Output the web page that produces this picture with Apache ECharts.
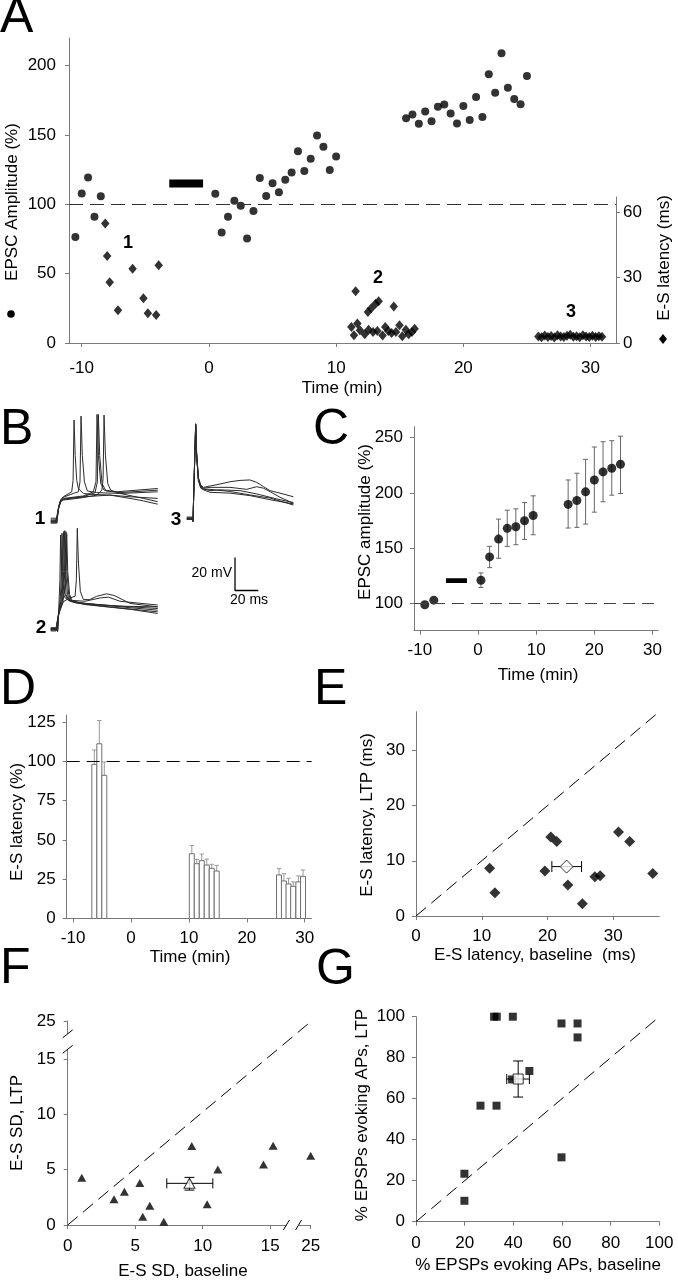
<!DOCTYPE html>
<html><head><meta charset="utf-8">
<script src="https://cdn.jsdelivr.net/npm/echarts@6/dist/echarts.min.js"></script>
<style>html,body{margin:0;padding:0;background:#fff}#c{width:678px;height:1280px}</style>
</head><body><div id="c"></div>
<script>
// ---------- Panel A ----------
const aEpscT = [-10.5,-10,-9.5,-9,-8.5, 0.5,1,1.5,2,2.5,3,3.5,4,4.5,5,5.5,6,6.5,7,7.5,8,8.5,9,9.5,10,
  15.5,16,16.5,17,17.5,18,18.5,19,19.5,20,20.5,21,21.5,22,22.5,23,23.5,24,24.5,25];
const aEpscV = [76.5,107.9,119.4,91,105.9, 107.6,79.7,91,102.6,99,75.4,95.3,119,106,115.3,108.8,117.7,123,138.4,124,132.9,149.7,141.5,124.7,134.6,
  162.2,164.9,158.1,167,160,170.4,172,165.6,158.4,170.9,160.8,177.4,163,193.8,180.5,209,184.1,176,172.3,192.6];
const aLatT = [-8.15,-8.0,-7.8,-7.15,-6.0,-5.15,-4.8,-4.15,-3.95,
  11.2,11.4,11.53,11.67,11.87,12.25,12.5,12.55,12.76,12.9,13.1,13.24,13.34,13.65,13.86,14.1,14.36,14.53,14.7,14.98,15.2,15.48,15.7,15.96,16.17,
  25.9,26.15,26.4,26.65,26.9,27.15,27.4,27.65,27.9,28.15,28.4,28.65,28.9,29.15,29.4,29.65,29.9,30.15,30.4,30.65,30.9];
const aLatV = [54.8,39.9,27.9,15.0,34.1,20.5,13.6,12.8,35.7,
  7.3,3.5,23.8,9.0,5.8,4.0,14.2,6.1,16.0,5.0,18.0,5.5,19.2,3.4,7.3,5.5,4.6,16.8,5.0,8.1,3.1,6.1,4.0,5.0,6.5,
  3.0,2.6,3.4,2.8,3.2,2.5,3.6,3.0,2.7,3.3,3.8,2.9,3.1,2.6,3.5,3.0,2.8,3.3,2.7,3.1,2.9];
const aDrugT = [-3.12,-0.46]; const aDrugV = 115;
const aXTicks = [-10,0,10,20,30], aYTicks = [0,50,100,150,200], aY2Ticks = [0,30,60];

// ---------- Panel B (ms, mV) ----------
const b1Traces = [
 [[0.6,-69],[5.1,-69],[5.7,-71],[7.4,-61],[9.1,-57],[11.4,-55],[18.6,-52],[19.8,-45],[20.6,-8.5],[21.6,-30],[22.9,-45],[24.3,-50],[28.6,-53],[34.3,-53.5],[51.4,-54],[68.6,-55],[92.3,-56]],
 [[0.6,-70],[5.1,-70],[5.7,-71],[7.4,-61],[9.1,-57],[11.4,-55.3],[20,-53],[24.3,-52],[25.7,-46],[26.6,-6.1],[27.7,-30],[29.5,-46],[32,-51.5],[40,-52.5],[60,-53],[92.3,-52]],
 [[0.6,-68],[5.1,-68],[5.7,-71],[7.4,-61.5],[9.1,-57.5],[11.4,-56],[28.6,-54.5],[37.1,-52],[39.4,-46],[40.3,-5.1],[41.5,-30],[43.5,-47],[46.3,-51],[57,-52],[92.3,-50]],
 [[0.6,-71],[5.1,-71],[5.7,-72],[7.4,-62],[9.1,-58],[11.4,-56.5],[28.6,-55],[38.6,-52.5],[40.6,-46],[41.4,-5.1],[42.6,-30],[44.6,-47],[48,-51.5],[60,-52.5],[92.3,-51]],
 [[0.6,-70.5],[5.1,-70.5],[5.7,-71.5],[7.4,-62],[9.1,-58],[11.4,-57],[28.6,-55.5],[40,-54],[44.5,-51],[45.5,-44],[46.3,-5.5],[47.5,-30],[49.5,-47],[52,-51],[60,-53],[80,-56],[92.3,-58]],
 [[0.6,-69.5],[5.1,-69.5],[5.7,-71],[7.4,-62],[9.1,-58],[11.4,-56.5],[28.6,-55],[51.4,-54],[68.6,-56],[80,-57.5],[92.3,-59.5]]
];
const b2Traces = [
 [[0.6,-70],[5.1,-70],[6.5,-71],[7.4,-60],[8.5,-40],[9.1,-12.8],[9.8,-35],[11,-48],[13,-51],[17,-53],[30,-55],[50,-56.5],[70,-58],[92.3,-60.4]],
 [[0.6,-69],[5.1,-69],[6.5,-71],[7.4,-60],[9,-50],[9.7,-35],[10.3,-11.8],[11,-35],[12.5,-48],[15,-52],[20,-53.5],[40,-55],[70,-57],[92.3,-58.4]],
 [[0.6,-71],[5.1,-71],[6.5,-72],[7.4,-61],[9.5,-52],[10.8,-35],[11.6,-10.8],[12.4,-35],[13.8,-49],[16,-52],[22,-54],[45,-56],[92.3,-59.4]],
 [[0.6,-70.5],[5.1,-70.5],[6.5,-71.5],[7.4,-61],[10,-53],[11.7,-35],[12.6,-10.2],[13.4,-35],[15,-49],[17,-52.5],[25,-54],[50,-55.5],[92.3,-57.4]],
 [[0.6,-69.5],[5.1,-69.5],[6.5,-71],[7.4,-61],[10.5,-53.5],[12.8,-35],[13.7,-10.8],[14.5,-35],[16,-49],[18,-52.5],[30,-54.5],[60,-56],[92.3,-56.4]],
 [[0.6,-70],[5.1,-70],[6.5,-71.5],[7.4,-61],[11,-54],[13.4,-40],[14.3,-12],[15.2,-35],[16.8,-49],[19,-52.5],[30,-53],[43,-51],[50,-50.5],[60,-53],[92.3,-55.3]],
 [[0.6,-70],[5.1,-70],[6.5,-71],[7.4,-61],[9,-56],[12,-53],[17,-51],[21.5,-50],[22.6,-40],[23.4,-8.8],[24.4,-30],[26,-47],[28.6,-52],[34,-52],[40,-50],[48.6,-48.5],[55,-49.5],[68.6,-54.3],[92.3,-56.4]]
];
const b3Traces = [
 [[0.6,-69.5],[5.4,-69.5],[6,-71],[6.8,-50],[7.8,-25],[8.3,-12.5],[9.1,-30],[10.6,-45],[12.6,-49.6],[14.9,-51],[20.6,-50.2],[29.1,-49],[37.7,-47.6],[46.3,-46.8],[54.8,-46.5],[60.6,-48],[66.3,-50.5],[72,-53],[80.6,-54.5],[92,-56.7]],
 [[0.6,-70],[5.4,-70],[6,-71.5],[6.8,-50],[7.8,-25],[8.3,-13],[9.1,-31],[10.6,-46],[12.6,-50],[14.9,-51.5],[20.6,-51],[37.7,-51],[52,-52.2],[60.6,-50.6],[66.3,-51.5],[72,-53.6],[80.6,-57],[92,-60.7]],
 [[0.6,-70.5],[5.4,-70.5],[6,-72],[6.8,-51],[7.8,-26],[8.3,-13.5],[9.1,-32],[10.6,-47],[12.6,-51],[14.9,-52],[20.6,-52.2],[37.7,-53.5],[54.8,-55.6],[72,-57.5],[92,-61.7]],
 [[0.6,-69],[5.4,-69],[6,-71],[6.8,-51],[7.8,-26],[8.3,-13],[9.1,-31],[10.6,-46],[12.6,-51.5],[14.9,-52.5],[20.6,-54],[37.7,-54.5],[54.8,-56],[72,-58.5],[92,-61]],
 [[0.6,-70],[5.4,-70],[6,-71.5],[6.8,-50.5],[7.8,-25.5],[8.3,-12.5],[9.1,-30.5],[10.6,-45.5],[12.6,-50.5],[14.9,-52],[20.6,-53],[29.1,-52.5],[46.3,-53],[60.6,-55],[80.6,-58.5],[92,-60.2]]
];
const scaleBar = [[42,-93.5],[42,-113.5],[62,-113.5]];

// ---------- Panel C ----------
const cT  = [-9.14,-7.6,0.51,2.0,3.54,5.03,6.51,8.0,9.49,15.5,17.0,18.5,20.0,21.5,23.0,24.5];
const cV  = [98.5,102.7,120.8,141.9,158.1,167.8,169.3,174.7,179.5,189.5,193.1,200.9,211.7,219,222.3,225.9];
const cHi = ['-','-',127.4,151.5,176.2,184.3,185.5,191.3,197.3,211.7,217.8,230.4,241.6,246.4,247.3,251.4];
const cLo = ['-','-',114.2,132.2,140.7,151.5,153,157.8,162,168.1,168.7,171.7,182.5,191.9,197.9,199.4];
const cDrugT = [-5.5,-1.9]; const cDrugV = 120.5;

// ---------- Panel D ----------
const dT   = [-6.33,-5.47,-4.61, 10.5,11.36,12.22,13.08,13.94,14.8, 25.56,26.4,27.2,28.0,28.9,29.7];
const dV   = [98.1,111.2,91.1, 41.2,34.9,36.8,34.0,31.9,30.2, 27.7,23.9,22.0,20.5,23.3,26.8];
const dErr = [107.2,126,99.6, 46.5,37.6,41,37.8,34.5,33.8, 31.7,28.5,25.6,23.3,27.1,30.9];
const dBarW = 0.86;

// ---------- Panel E ----------
const eX = [11.2,12.0,19.6,20.5,21.4,23.1,25.3,27.2,28.0,30.8,32.5,36.0];
const eY = [8.65,4.23,8.17,14.3,13.5,5.6,2.2,7.1,7.3,15.2,13.5,7.7];
const eMean = [22.9,8.95], eXErr = [20.66,25.18];

// ---------- Panel F ----------
const fX = [1.04,3.43,4.2,5.34,5.56,6.08,7.12,9.19,10.33,11.12,14.5,15.22,25];
const fY = [4.28,2.32,3.01,3.8,0.75,1.75,0.3,7.14,1.87,5.03,5.48,7.17,6.27];
const fMean = [9.02,3.77], fXErr = [7.34,10.75], fYErr = [3.16,4.31];

// ---------- Panel G ----------
const gX = [32.1,33.2,39.8,59.8,66.4,66.4,46.6,39.5,26.5,33.1,59.8,19.9,19.9];
const gY = [100,100,100,96.7,96.7,89.9,73.5,69.4,56.6,56.6,31.4,23.4,10.2];
const gMean = [42.0,69.6], gXErr = [37.3,46.6], gYErr = [60.8,78.4];

// =====================================================
const FONT = "'Liberation Sans', Arial, Helvetica, sans-serif";
const AX = '#7a7a7a';
const FS = 17;
// broken-axis mapping for panel F (values above the break are shifted)
const fMapX = v => v > 20 ? v - 7 : v;
const fMapY = v => v > 20 ? v - 6.54 : v;

function vax(gi, min, max, ticks, margin, extra) {
  return Object.assign({
    type: 'value', gridIndex: gi, min: min, max: max,
    axisLine: {show: true, onZero: false, lineStyle: {color: AX, width: 1}},
    axisTick: {show: true, length: 4, lineStyle: {color: AX}, customValues: ticks},
    axisLabel: {show: true, color: '#000', fontSize: FS, fontFamily: FONT, margin: margin, customValues: ticks},
    splitLine: {show: false}
  }, extra || {});
}
function hid(gi, min, max) {
  return {type: 'value', gridIndex: gi, min: min, max: max, show: false, splitLine: {show: false}};
}

const grids = [
  {left: 69, top: 38, width: 547, height: 305},     // 0 A
  {left: 69, top: 197, width: 547, height: 146},    // 1 A right
  {left: 50, top: 406, width: 116.7, height: 132},  // 2 B1
  {left: 50, top: 513.8, width: 116.7, height: 132},// 3 B2
  {left: 186, top: 403.2, width: 116.7, height: 198},// 4 B3
  {left: 414, top: 426.7, width: 244.3, height: 204},// 5 C
  {left: 66.7, top: 715, width: 245, height: 203.5}, // 6 D
  {left: 416, top: 711.7, width: 243.3, height: 204.3}, // 7 E
  {left: 67.7, top: 1021, width: 243, height: 204},  // 8 F
  {left: 416, top: 1016.7, width: 243.3, height: 205} // 9 G
];

const xAxes = [
  vax(0, -11, 32, aXTicks, 17),
  hid(1, -11, 32),
  hid(2, 0, 100), hid(3, 0, 100), hid(4, 0, 100),
  vax(5, -11, 31, [-10,0,10,20,30], 11),
  vax(6, -11.1, 31.2, [-10,0,10,20,30], 11),
  vax(7, 0, 37, [0,10,20,30], 12),
  vax(8, 0, 18, [0,5,10,15,18], 13, {axisLabel: {color:'#000', fontSize: FS, fontFamily: FONT, margin: 13, customValues: [0,5,10,15,18], formatter: v => v > 16 ? '25' : String(v)}}),
  vax(9, 0, 100, [0,20,40,60,80,100], 13)
];
const yAxes = [
  vax(0, 0, 220, aYTicks, 13),
  vax(1, 0, 67, aY2Ticks, 7, {position: 'right'}),
  hid(2, -80, 0), hid(3, -80, 0), hid(4, -120, 0),
  vax(5, 75, 260, [100,150,200,250], 11),
  vax(6, 0, 129.5, [0,25,50,75,100,125], 11),
  vax(7, 0, 37, [0,10,20,30], 11),
  vax(8, 0, 18.46, [0,5,10,15,18.46], 12, {axisLabel: {color:'#000', fontSize: FS, fontFamily: FONT, margin: 12, customValues: [0,5,10,15,18.46], formatter: v => v > 16 ? '25' : String(v)}}),
  vax(9, 0, 100, [0,20,40,60,80,100], 11)
];

function hLine(val, dash, color) {
  return {silent: true, symbol: 'none', animation: false, label: {show: false},
    lineStyle: {type: dash, color: color, width: 1}, data: [{yAxis: val}]};
}
function diagLine(max, dash) {
  return {silent: true, symbol: 'none', animation: false, label: {show: false},
    lineStyle: {type: dash, color: '#000', width: 1}, data: [[{coord: [0,0]}, {coord: [max[0], max[1]]}]]};
}
function errRender(color, cap) {
  return function (params, api) {
    const x = api.value(0), y = api.value(1);
    const xl = api.value(2), xh = api.value(3), yl = api.value(4), yh = api.value(5);
    const st = {stroke: color, lineWidth: 1};
    const ch = [];
    if (!isNaN(xl) && !isNaN(xh)) {
      const a = api.coord([xl, y]), b = api.coord([xh, y]);
      ch.push({type: 'line', shape: {x1: a[0], y1: a[1], x2: b[0], y2: b[1]}, style: st});
      ch.push({type: 'line', shape: {x1: a[0], y1: a[1]-cap, x2: a[0], y2: a[1]+cap}, style: st});
      ch.push({type: 'line', shape: {x1: b[0], y1: b[1]-cap, x2: b[0], y2: b[1]+cap}, style: st});
    }
    if (!isNaN(yl) && !isNaN(yh)) {
      const a = api.coord([x, yl]), b = api.coord([x, yh]);
      ch.push({type: 'line', shape: {x1: a[0], y1: a[1], x2: b[0], y2: b[1]}, style: st});
      ch.push({type: 'line', shape: {x1: a[0]-cap, y1: a[1], x2: a[0]+cap, y2: a[1]}, style: st});
      ch.push({type: 'line', shape: {x1: b[0]-cap, y1: b[1], x2: b[0]+cap, y2: b[1]}, style: st});
    }
    return {type: 'group', children: ch};
  };
}

const series = [];
// ----- A -----
series.push({type: 'scatter', xAxisIndex: 0, yAxisIndex: 0, symbol: 'circle', symbolSize: 8,
  itemStyle: {color: '#000'}, data: aEpscT.map((t,i) => [t, aEpscV[i]]), markLine: hLine(100, [14,7], '#333'), z: 3});
series.push({type: 'line', xAxisIndex: 0, yAxisIndex: 0, symbol: 'none', lineStyle: {width: 8, color: '#000', cap: 'butt'},
  data: aDrugT.map(t => [t, aDrugV])});
series.push({type: 'scatter', xAxisIndex: 1, yAxisIndex: 1, symbol: 'diamond', symbolSize: [8.5,10],
  itemStyle: {color: '#000'}, data: aLatT.map((t,i) => [t, aLatV[i]])});
// ----- B -----
[[b1Traces,2],[b2Traces,3],[b3Traces,4]].forEach(([tr, gi]) => {
  tr.forEach(d => series.push({type: 'line', xAxisIndex: gi, yAxisIndex: gi, symbol: 'none', silent: true,
    lineStyle: {width: 1, color: '#2b2b2b'}, data: d, clip: false}));
});
series.push({type: 'line', xAxisIndex: 4, yAxisIndex: 4, symbol: 'none', silent: true,
  lineStyle: {width: 1.3, color: '#000'}, data: scaleBar, clip: false});
// ----- C -----
series.push({type: 'custom', xAxisIndex: 5, yAxisIndex: 5, renderItem: errRender('#666', 2.5),
  data: cT.map((t,i) => [t, cV[i], '-', '-', cLo[i], cHi[i]]), encode: {x: 0, y: 1}});
series.push({type: 'line', xAxisIndex: 5, yAxisIndex: 5, symbol: 'none', lineStyle: {width: 4.7, color: '#000'},
  data: cDrugT.map(t => [t, cDrugV])});
series.push({type: 'scatter', xAxisIndex: 5, yAxisIndex: 5, symbol: 'circle', symbolSize: 9,
  itemStyle: {color: '#000'}, data: cT.map((t,i) => [t, cV[i]]), markLine: hLine(100, [12,7], '#444'), z: 3});
// ----- D -----
series.push({type: 'custom', xAxisIndex: 6, yAxisIndex: 6, encode: {x: 0, y: 1},
  data: dT.map((t,i) => [t, dV[i], dErr[i]]),
  markLine: hLine(100, [13,7], '#000'),
  renderItem: function (params, api) {
    const c = api.value(0), v = api.value(1), e = api.value(2);
    const p0 = api.coord([c - dBarW/2, 0]), p1 = api.coord([c + dBarW/2, v]);
    const pv = api.coord([c, v]), pe = api.coord([c, e]);
    const es = {stroke: '#999', lineWidth: 1};
    return {type: 'group', children: [
      {type: 'line', shape: {x1: pv[0], y1: pv[1], x2: pe[0], y2: pe[1]}, style: es},
      {type: 'line', shape: {x1: pe[0]-2.2, y1: pe[1], x2: pe[0]+2.2, y2: pe[1]}, style: es},
      {type: 'rect', shape: {x: p0[0], y: p1[1], width: p1[0]-p0[0], height: p0[1]-p1[1]},
        style: {fill: '#fff', stroke: '#707070', lineWidth: 1}}
    ]};
  }});
// ----- E -----
series.push({type: 'scatter', xAxisIndex: 7, yAxisIndex: 7, symbol: 'diamond', symbolSize: 11,
  itemStyle: {color: '#000'}, data: eX.map((x,i) => [x, eY[i]]), markLine: diagLine([37,37], [13,7])});
series.push({type: 'custom', xAxisIndex: 7, yAxisIndex: 7, renderItem: errRender('#000', 5.5), encode: {x: 0, y: 1},
  data: [[eMean[0], eMean[1], eXErr[0], eXErr[1], '-', '-']]});
series.push({type: 'scatter', xAxisIndex: 7, yAxisIndex: 7, symbol: 'diamond', symbolSize: 13,
  itemStyle: {color: '#fff', borderColor: '#000', borderWidth: 1}, data: [eMean], z: 4});
// ----- F -----
series.push({type: 'scatter', xAxisIndex: 8, yAxisIndex: 8, symbol: 'triangle', symbolSize: [9,8],
  itemStyle: {color: '#000'}, data: fX.map((x,i) => [fMapX(x), fMapY(fY[i])]), markLine: diagLine([18,18.4], [13,7])});
series.push({type: 'custom', xAxisIndex: 8, yAxisIndex: 8, renderItem: errRender('#000', 5), encode: {x: 0, y: 1},
  data: [[fMean[0], fMean[1], fXErr[0], fXErr[1], fYErr[0], fYErr[1]]]});
series.push({type: 'scatter', xAxisIndex: 8, yAxisIndex: 8, symbol: 'triangle', symbolSize: [11,10],
  itemStyle: {color: '#fff', borderColor: '#000', borderWidth: 1}, data: [fMean], z: 4});
// axis break marks for F (positions in axis units)
series.push({type: 'custom', xAxisIndex: 8, yAxisIndex: 8, silent: true, clip: false, z: 5,
  data: [[0, 15.9, 0, 17.3, 0], [16.2, 0, 17.1, 0, 1]],
  renderItem: function (params, api) {
    const a = api.coord([api.value(0), api.value(1)]), b = api.coord([api.value(2), api.value(3)]);
    const vert = api.value(4) === 0;
    const st = {stroke: '#000', lineWidth: 1};
    const ch = [];
    if (vert) {
      ch.push({type: 'rect', shape: {x: a[0]-2, y: b[1], width: 4, height: a[1]-b[1]}, style: {fill: '#fff'}});
      [a, b].forEach(p => ch.push({type: 'line', shape: {x1: p[0]-5, y1: p[1]+4, x2: p[0]+5, y2: p[1]-4}, style: st}));
    } else {
      ch.push({type: 'rect', shape: {x: a[0], y: a[1]-2, width: b[0]-a[0], height: 4}, style: {fill: '#fff'}});
      [a, b].forEach(p => ch.push({type: 'line', shape: {x1: p[0]-3, y1: p[1]+5, x2: p[0]+3, y2: p[1]-5}, style: st}));
    }
    return {type: 'group', children: ch};
  }});
// ----- G -----
series.push({type: 'scatter', xAxisIndex: 9, yAxisIndex: 9, symbol: 'rect', symbolSize: 8,
  itemStyle: {color: '#000'}, data: gX.map((x,i) => [x, gY[i]]), markLine: diagLine([100,100], [13,7])});
series.push({type: 'custom', xAxisIndex: 9, yAxisIndex: 9, renderItem: errRender('#000', 5), encode: {x: 0, y: 1},
  data: [[gMean[0], gMean[1], gXErr[0], gXErr[1], gYErr[0], gYErr[1]]]});
series.push({type: 'scatter', xAxisIndex: 9, yAxisIndex: 9, symbol: 'rect', symbolSize: 10,
  itemStyle: {color: '#fff', borderColor: '#000', borderWidth: 1}, data: [gMean], z: 4});

// ----- texts -----
function txt(x, y, s, size, o) {
  o = o || {};
  return {type: 'text', x: x, y: y, rotation: o.rot || 0, silent: true, z: 10,
    style: {text: s, font: (o.bold ? 'bold ' : '') + size + 'px ' + FONT, fill: '#000',
      textAlign: o.align || 'center', textVerticalAlign: 'middle', align: o.align || 'center', verticalAlign: 'middle'}};
}
const R = Math.PI / 2;
const graphics = [
  txt(0, 18, 'A', 50, {align: 'left'}), txt(0, 430, 'B', 50, {align: 'left'}), txt(313, 430, 'C', 50, {align: 'left'}),
  txt(0, 690, 'D', 50, {align: 'left'}), txt(314, 690, 'E', 50, {align: 'left'}),
  txt(0, 969, 'F', 50, {align: 'left'}), txt(316, 970, 'G', 50, {align: 'left'}),
  txt(12, 202, 'EPSC Amplitude (%)', FS, {rot: R}),
  txt(664, 258, 'E-S latency (ms)', FS, {rot: R}),
  txt(342, 388, 'Time (min)', FS),
  txt(128, 243, '1', 18, {bold: true}), txt(378, 278, '2', 18, {bold: true}), txt(571, 312, '3', 18, {bold: true}),
  txt(40, 519, '1', 19, {bold: true}), txt(41, 628, '2', 19, {bold: true}), txt(176, 520, '3', 19, {bold: true}),
  txt(232, 573, '20 mV', 14, {align: 'right'}), txt(249, 600, '20 ms', 14),
  txt(365, 522, 'EPSC amplitude (%)', FS, {rot: R}), txt(538, 675, 'Time (min)', FS),
  txt(17, 822, 'E-S latency (%)', FS, {rot: R}), txt(190, 957, 'Time (min)', FS),
  txt(367, 815, 'E-S latency, LTP (ms)', FS, {rot: R}), txt(535, 955, 'E-S latency, baseline  (ms)', FS),
  txt(17, 1123, 'E-S SD, LTP', FS, {rot: R}), txt(183, 1271, 'E-S SD, baseline', FS),
  txt(362, 1115, '% EPSPs evoking APs, LTP', FS, {rot: R}), txt(538, 1265, '% EPSPs evoking APs, baseline', FS),
  {type: 'circle', shape: {cx: 11, cy: 314, r: 3.8}, style: {fill: '#000'}, silent: true},
  {type: 'polygon', shape: {points: [[663,334],[667,339],[663,344],[659,339]]}, style: {fill: '#000'}, silent: true}
];

const chart = echarts.init(document.getElementById('c'), null, {renderer: 'canvas'});
chart.setOption({
  animation: false, backgroundColor: '#fff',
  grid: grids, xAxis: xAxes, yAxis: yAxes, series: series, graphic: graphics
});
</script></body></html>
